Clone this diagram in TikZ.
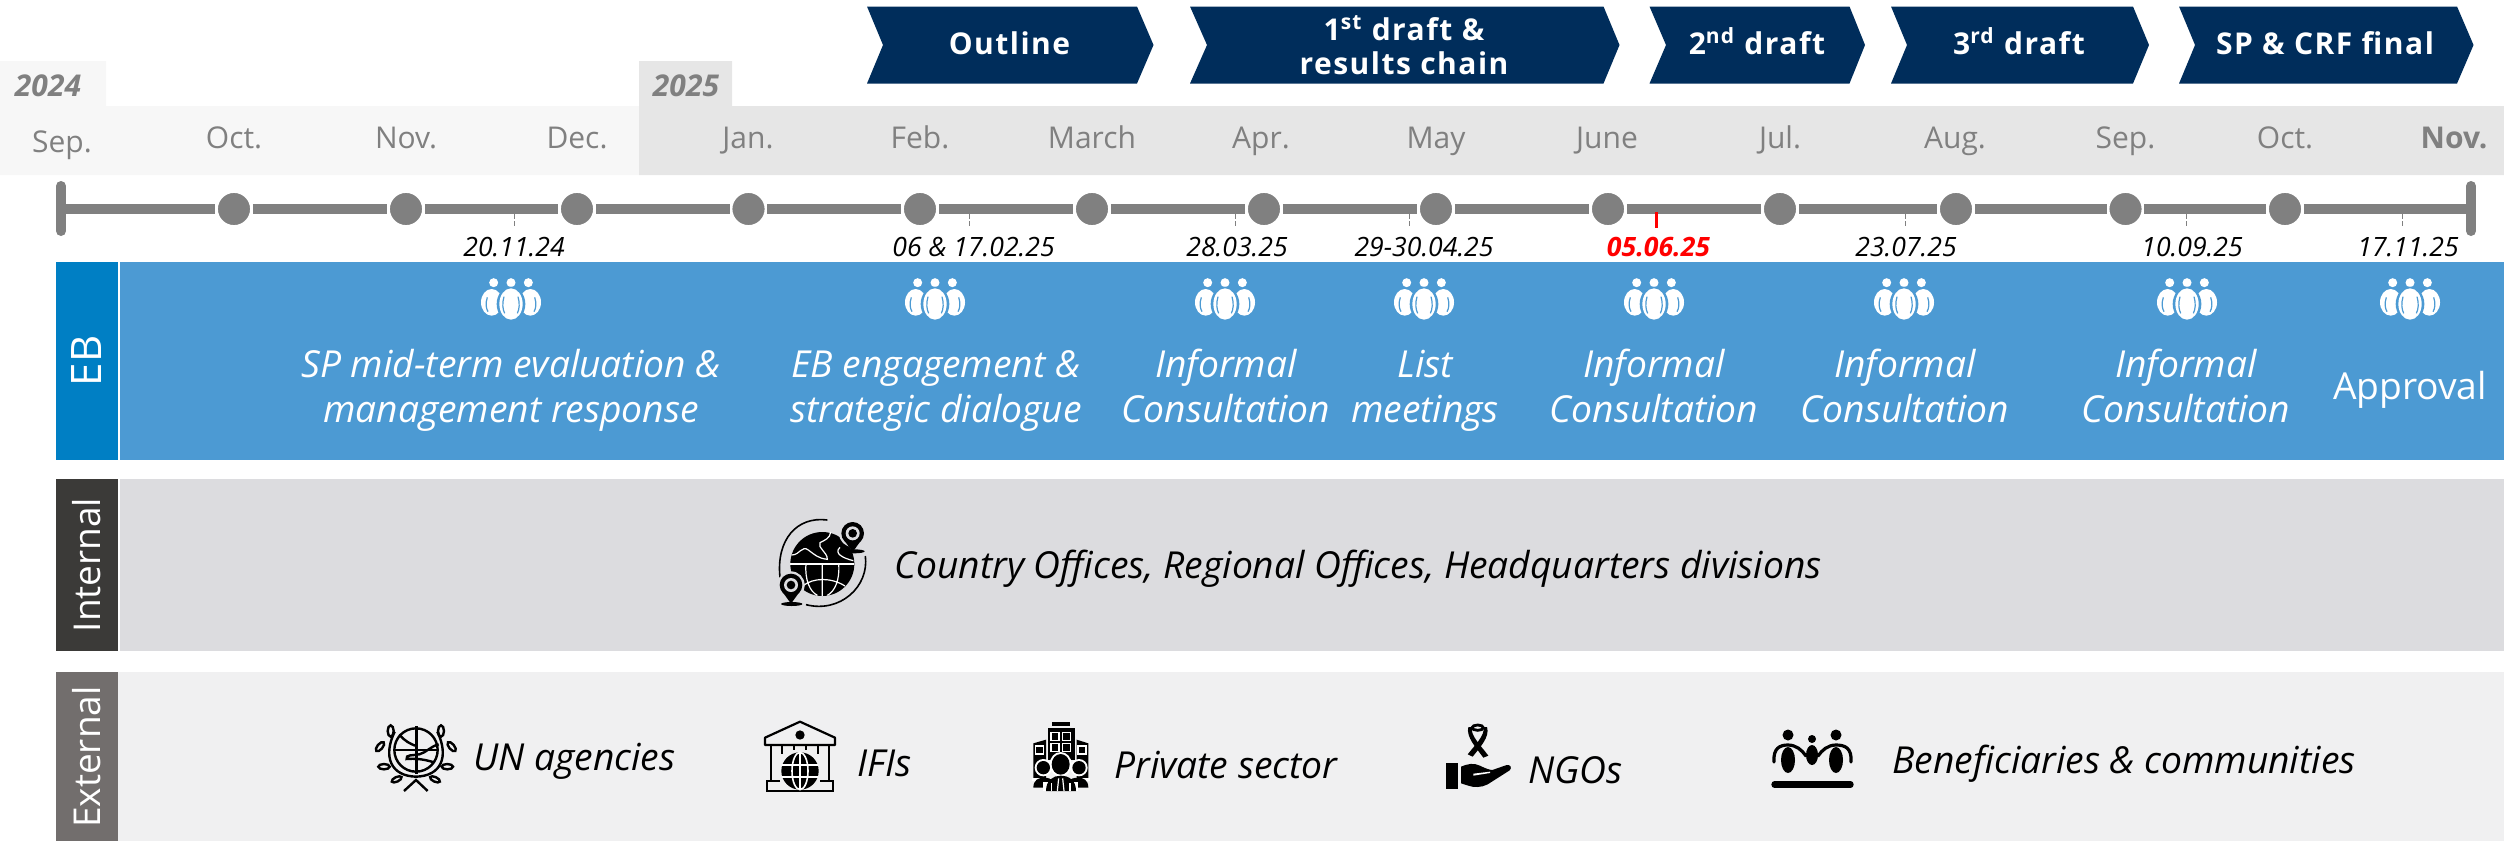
\documentclass[tikz,border=0pt]{standalone}
\usepackage{fontspec}
\setmainfont{Open Sans}
\newcommand{\fsz}[2]{\fontsize{#1}{#2}\selectfont}
\newcommand{\ebstrut}{\rule[-5pt]{0pt}{20pt}}
\newfontfamily\chevfont[LetterSpace=5]{Open Sans}
\definecolor{navy}{HTML}{002D5B}
\definecolor{ebdark}{HTML}{007FC4}
\definecolor{ebband}{HTML}{4C9AD3}
\definecolor{intdark}{HTML}{3B3A38}
\definecolor{intband}{HTML}{DCDCDF}
\definecolor{extdark}{HTML}{726E6D}
\definecolor{extband}{HTML}{F0F0F1}
\definecolor{yrlight}{HTML}{F7F7F7}
\definecolor{yrdark}{HTML}{E6E6E6}
\definecolor{tlgray}{HTML}{808080}
\tikzset{
  chevtext/.style={text=white,align=center,font=\chevfont\bfseries\fsz{15}{17}},
  chevone/.style={chevtext,anchor=base,inner sep=0pt},
  chevshape/.style={fill=navy},
  monthlbl/.style={text=tlgray,anchor=base,inner sep=0pt,font=\fsz{15}{17}},
  yearlbl/.style={text=tlgray,anchor=base,inner sep=0pt,font=\bfseries\itshape\fsz{15}{17}},
  sidelbl/.style={text=white,rotate=90,font=\fsz{18.5}{21}},
  tlline/.style={draw=tlgray,line width=5pt},
  tlend/.style={draw=tlgray,line width=5pt,line cap=round},
  tldot/.style={circle,fill=tlgray,draw=white,line width=1.4pt,minimum size=17.5pt,inner sep=0pt},
  ticklbl/.style={draw=tlgray,line width=0.5pt,dashed,dash pattern=on 2.5pt off 1pt},
  datelbl/.style={text=black,anchor=base,inner sep=0pt,font=\itshape\fsz{13.3}{15}},
  eblbl/.style={text=white,align=center,font=\itshape\fsz{18.6}{22.5}},
  blackitem/.style={text=black,anchor=base west,inner sep=0pt,font=\itshape\fsz{18.6}{22}},
  people/.pic={
    \fill[white] (41,38) circle (13.5) (93,38) circle (13.5) (145,38) circle (13.5);
    \fill[white] (35,97) ellipse (32 and 40) (151,97) ellipse (32 and 40);
    \fill[ebband] (93,102) ellipse (43 and 52);
    \fill[white] (93,102) ellipse (35 and 47);
    \draw[ebband,line width=0.6pt] (72,80) .. controls (66,100) and (68,118) .. (74,130) (114,80) .. controls (120,100) and (118,118) .. (112,130);
    \draw[ebband,line width=0.6pt] (22,82) .. controls (16,100) and (18,115) .. (24,125) (164,82) .. controls (170,100) and (168,115) .. (162,125);
  },
  globeicon/.pic={
    \draw[black,line width=0.8pt] (262,90) .. controls (170,78) and (108,150) .. (120,262);
    \draw[black,line width=0.8pt] (376,198) .. controls (388,290) and (300,370) .. (198,344);
    \fill[black] (247,222) circle (96);
    \draw[white,line width=0.9pt] (151,222) -- (343,222);
    \draw[white,line width=0.6pt] (247,222) -- (247,318)
      (198,222) .. controls (194,270) and (210,305) .. (232,316)
      (296,222) .. controls (300,270) and (284,305) .. (262,316)
      (188,288) .. controls (220,262) and (274,262) .. (315,288);
    \draw[white,line width=0.6pt] (155,195) .. controls (180,195) and (185,165) .. (205,180) .. controls (225,195) and (235,205) .. (262,208) .. controls (262,185) and (232,175) .. (240,158) .. controls (255,150) and (270,145) .. (272,126);
    \draw[white,line width=0.6pt] (340,212) .. controls (310,205) and (280,190) .. (300,172);
    \fill[intband] (338,130) circle (41);
    \fill[black] (338,130) circle (34);
    \fill[black] (312,150) -- (364,150) -- (338,186) -- cycle;
    \fill[black] (342,184) ellipse (32 and 6);
    \fill[intband] (338,130) circle (21);
    \fill[black] (338,130) circle (13);
    \fill[intband] (153,285) circle (41);
    \fill[black] (153,285) circle (34);
    \fill[black] (127,305) -- (179,305) -- (153,341) -- cycle;
    \fill[black] (155,342) ellipse (32 and 6);
    \fill[intband] (153,285) circle (21);
    \fill[black] (153,285) circle (13);
  },
  unicon/.pic={
    \begin{scope}[black,line width=1.2pt]
      \draw (168,105) circle (65);
      \draw (104,50) .. controls (68,125) and (92,183) .. (168,185) .. controls (244,183) and (268,125) .. (232,50);
      \draw (170,33) -- (170,178) (105,105) -- (232,105);
      \draw (118,58) .. controls (135,80) and (150,85) .. (165,92);
      \draw (236,88) .. controls (210,95) and (200,112) .. (178,118) .. controls (160,122) and (135,118) .. (140,132) .. controls (165,130) and (190,132) .. (222,142);
      \draw (92,48) ellipse (9 and 17);
      \draw[rotate around={-40:(60,95)}] (60,95) ellipse (8 and 17);
      \draw[rotate around={90:(72,155)}] (72,155) ellipse (8 and 17);
      \draw[rotate around={115:(110,193)}] (110,193) ellipse (7 and 16);
      \draw (243,48) ellipse (9 and 17);
      \draw[rotate around={40:(275,95)}] (275,95) ellipse (8 and 17);
      \draw[rotate around={90:(262,155)}] (262,155) ellipse (8 and 17);
      \draw[rotate around={65:(225,193)}] (225,193) ellipse (7 and 16);
      \draw (132,228) -- (168,195) -- (203,228);
    \end{scope}
  },
  ifiicon/.pic={
    \begin{scope}[black,line width=1.1pt]
      \draw[line join=round] (30,90) -- (30,68) -- (135,20) -- (240,68) -- (240,90) -- cycle;
      \fill (135,60) circle (14);
      \draw (47,92) -- (47,198) (222,92) -- (222,198);
      \draw (80,92) -- (80,118) (118,92) -- (118,105) (152,92) -- (152,105) (190,92) -- (190,118);
      \draw (75,198) -- (35,198) -- (35,228) -- (235,228) -- (235,198) -- (195,198);
      \fill (135,168) circle (56);
      \draw[white,line width=0.8pt] (135,112) -- (135,224) (80,150) -- (190,150) (80,186) -- (190,186);
      \draw[white,line width=0.8pt] (135,168) ellipse (24 and 56);
    \end{scope}
  },
  privicon/.pic={
    \fill[black] (97,20) rectangle (150,33);
    \fill[black] (83,38) rectangle (165,135);
    \fill[black] (40,85) -- (78,74) -- (78,190) -- (40,190) -- cycle;
    \fill[black] (205,85) -- (170,74) -- (170,190) -- (205,190) -- cycle;
    \foreach \wx/\wy in {105/65,140/65,105/98,140/98,58/105,186/105}{
      \draw[white,fill=black,line width=0.6pt] (\wx-12,\wy-12) rectangle (\wx+12,\wy+12);
    }
    \fill[white] (70,158) circle (26) (177,158) circle (26) (122,148) ellipse (33 and 37);
    \fill[black] (70,158) circle (20) (177,158) circle (20) (122,148) ellipse (27 and 31);
    \fill[white] (36,190) rectangle (210,198);
    \fill[black] (40,218) .. controls (40,195) and (55,188) .. (72,188) .. controls (85,188) and (95,192) .. (100,198) -- (75,218) -- cycle;
    \fill[black] (205,218) .. controls (205,195) and (190,188) .. (175,188) .. controls (160,188) and (150,192) .. (145,198) -- (170,218) -- cycle;
    \fill[white] (70,200) rectangle (175,228);
    \fill[black] (78,228) .. controls (78,195) and (100,182) .. (122,182) .. controls (146,182) and (168,195) .. (168,228) -- cycle;
    \draw[white,line width=0.6pt] (95,205) -- (95,228) (150,205) -- (150,228);
    \draw[white,line width=0.6pt] (116,190) -- (112,228) (128,190) -- (132,228);
  },
  ngoicon/.pic={
    \draw[black,line width=1.4pt] (128,38) ellipse (17 and 8);
    \fill[black] (111,36) .. controls (104,60) and (138,92) .. (160,122) -- (145,128) .. controls (125,100) and (92,66) .. (100,36) -- cycle;
    \fill[black] (145,36) .. controls (152,60) and (118,92) .. (98,118) -- (113,125) .. controls (132,100) and (166,66) .. (156,36) -- cycle;
    \fill[black] (32,145) rectangle (70,222);
    \fill[black,line join=round] (78,155) .. controls (100,146) and (115,143) .. (135,152) .. controls (150,160) and (165,165) .. (172,165) -- (215,150) .. controls (226,148) and (232,158) .. (224,166) -- (158,208) .. controls (140,218) and (115,218) .. (100,212) -- (78,205) -- cycle;
    \fill[white] (115,176) -- (165,170) -- (165,174) -- (115,182) -- cycle;
  },
}
\begin{document}
\begin{tikzpicture}[x=0.5pt,y=-0.5pt]
\useasboundingbox (0,0) rectangle (2504,841);
% month bands
\fill[yrlight] (0,61) rectangle (106,106) (0,106) rectangle (639,175);
\fill[yrdark] (639,61) rectangle (732,106) (639,106) rectangle (2504,175);
\node[yearlbl] (y24) at (48,96) {2024};
\node[yearlbl] (y25) at (686,96) {2025};
% chevrons
\fill[chevshape] (867,6.5) -- (1137,6.5) -- (1153.5,45) -- (1137,83.5) -- (867,83.5) -- (883,45) -- cycle;
\fill[chevshape] (1190,6.5) -- (1603.5,6.5) -- (1619.5,45) -- (1603.5,83.5) -- (1190,83.5) -- (1207,45) -- cycle;
\fill[chevshape] (1649.5,6.5) -- (1849.5,6.5) -- (1865,45) -- (1849.5,83.5) -- (1649.5,83.5) -- (1666,45) -- cycle;
\fill[chevshape] (1891,6.5) -- (2133,6.5) -- (2149,45) -- (2133,83.5) -- (1891,83.5) -- (1907,45) -- cycle;
\fill[chevshape] (2179,6.5) -- (2457,6.5) -- (2473.5,45) -- (2457,83.5) -- (2179,83.5) -- (2195,45) -- cycle;
\node[chevone] (c1) at (1009.5,54) {Outline};
\node[chevtext] (c2) at (1404,45) {1\textsuperscript{st} draft \&\\results chain};
\node[chevone] (c3) at (1757,54) {2\textsuperscript{nd} draft};
\node[chevone] (c4) at (2019,54) {3\textsuperscript{rd} draft};
\node[chevone] (c5) at (2325,54) {SP \& CRF final};
% months
\node[monthlbl] (m0) at (62,152) {Sep.};
\node[monthlbl] (m1) at (234,148) {Oct.};
\node[monthlbl] (m2) at (406,148) {Nov.};
\node[monthlbl] (m3) at (577,148) {Dec.};
\node[monthlbl] (m4) at (748,148) {Jan.};
\node[monthlbl] (m5) at (920,148) {Feb.};
\node[monthlbl] (m6) at (1092,148) {March};
\node[monthlbl] (m7) at (1261,148) {Apr.};
\node[monthlbl] (m8) at (1436,148) {May};
\node[monthlbl] (m9) at (1607,148) {June};
\node[monthlbl] (m10) at (1780,148) {Jul.};
\node[monthlbl] (m11) at (1955,148) {Aug.};
\node[monthlbl] (m12) at (2125.5,148) {Sep.};
\node[monthlbl] (m13) at (2285,148) {Oct.};
\node[monthlbl,font=\bfseries\fsz{15}{17}] (m14) at (2454,148) {Nov.};
% timeline
\coordinate (tls) at (61,209);
\coordinate (tle) at (2471,209);
\coordinate (tlsa) at (61,186);
\coordinate (tlsb) at (61,231);
\coordinate (tlea) at (2471,186);
\coordinate (tleb) at (2471,231);
\foreach \n/\x in {1/234,2/406,3/577,4/748.5,5/920,6/1092,7/1264,8/1436,9/1608,10/1780,11/1956,12/2125.5,13/2285}{
  \node[tldot] (d\n) at (\x,209) {};
}
\draw[tlline] (tls) -- (d1);
\foreach \a/\b in {1/2,2/3,3/4,4/5,5/6,6/7,7/8,8/9,9/10,10/11,11/12,12/13}{
  \draw[tlline] (d\a) -- (d\b);
}
\draw[tlline] (d13) -- (tle);
\draw[tlend] (tlsa) -- (tlsb);
\draw[tlend] (tlea) -- (tleb);
% ticks and dates
\foreach \k/\x in {a/514,b/969,c/1235,d/1409,f/1905,g/2186,h/2402}{
  \coordinate (t\k1) at (\x,214);
  \coordinate (t\k2) at (\x,228);
  \draw[ticklbl] (t\k1) -- (t\k2);
}
\coordinate (te1) at (1656.5,212);
\coordinate (te2) at (1656.5,228);
\draw[red,line width=1.5pt] (te1) -- (te2);
\node[datelbl] (da) at (514,256) {20.11.24};
\node[datelbl] (db) at (973.5,256) {06 \& 17.02.25};
\node[datelbl] (dc) at (1237,256) {28.03.25};
\node[datelbl] (dd) at (1424,256) {29-30.04.25};
\node[datelbl,text=red,font=\bfseries\itshape\fsz{13.3}{15}] (de) at (1658.5,256) {05.06.25};
\node[datelbl] (df) at (1906,256) {23.07.25};
\node[datelbl] (dg) at (2192,256) {10.09.25};
\node[datelbl] (dh) at (2408,256) {17.11.25};
% bands
\fill[ebdark] (56,262) rectangle (118,460);
\fill[ebband] (120,262) rectangle (2504,460);
\fill[intdark] (56,479) rectangle (118,651);
\fill[intband] (120,479) rectangle (2504,651);
\fill[extdark] (56,672) rectangle (118,841);
\fill[extband] (118,672) rectangle (2504,841);
\node[sidelbl,font=\fsz{21}{24}] (seb) at (87,361) {EB};
\node[sidelbl] (sint) at (87,565) {Internal};
\node[sidelbl] (sext) at (87,757) {External};
% EB row
\foreach \x in {511,935,1225,1424,1654,1904,2187,2410}{
  \pic[scale=1/3] at (\x-31,270) {people};
}
\node[eblbl] (e1) at (511,389.5) {\ebstrut SP mid-term evaluation \&\\\ebstrut management response};
\node[eblbl] (e2) at (936,389.5) {\ebstrut EB engagement \&\\\ebstrut strategic dialogue};
\node[eblbl] (e3) at (1226,389.5) {\ebstrut Informal\\\ebstrut Consultation};
\node[eblbl] (e4) at (1425,389.5) {\ebstrut List\\\ebstrut meetings};
\node[eblbl] (e5) at (1654,389.5) {\ebstrut Informal\\\ebstrut Consultation};
\node[eblbl] (e6) at (1905,389.5) {\ebstrut Informal\\\ebstrut Consultation};
\node[eblbl] (e7) at (2186,389.5) {\ebstrut Informal\\\ebstrut Consultation};
\node[eblbl,anchor=base,inner sep=0pt,font=\fsz{18.6}{22.5}] (e8) at (2410,399) {Approval};
% Internal row
\pic[scale=1/3] at (740,490) {globeicon};
\node[blackitem] (i1) at (894,578) {Country Offices, Regional Offices, Headquarters divisions};
% External row
\pic[scale=1/3] at (360,715) {unicon};
\pic[scale=1/3] at (755,715) {ifiicon};
\pic[scale=1/3] at (1020,715) {privicon};
\pic[scale=1/3] at (1435,715) {ngoicon};
% beneficiaries icon
\fill[black] (1788,735) circle (5.5) (1836,735) circle (5.5) (1812,739) circle (4);
\fill[black] (1788,760) ellipse (7 and 13) (1836,760) ellipse (7 and 13) (1812,755) ellipse (6 and 10);
\draw[black,line width=1.6pt,line cap=round] (1774,762) .. controls (1773,748) and (1780,745) .. (1788,745) .. controls (1796,745) and (1802,750) .. (1806,756);
\draw[black,line width=1.6pt,line cap=round] (1851,762) .. controls (1852,748) and (1845,745) .. (1836,745) .. controls (1828,745) and (1822,750) .. (1818,756);
\draw[black,line width=3.2pt,line cap=round] (1774.5,784.5) -- (1850.5,784.5);
\node[blackitem] (x1) at (473,770) {UN agencies};
\node[blackitem] (x2) at (857,776) {IFIs};
\node[blackitem] (x3) at (1114,778) {Private sector};
\node[blackitem] (x4) at (1528,783) {NGOs};
\node[blackitem] (x5) at (1892,773) {Beneficiaries \& communities};
\end{tikzpicture}
\end{document}
